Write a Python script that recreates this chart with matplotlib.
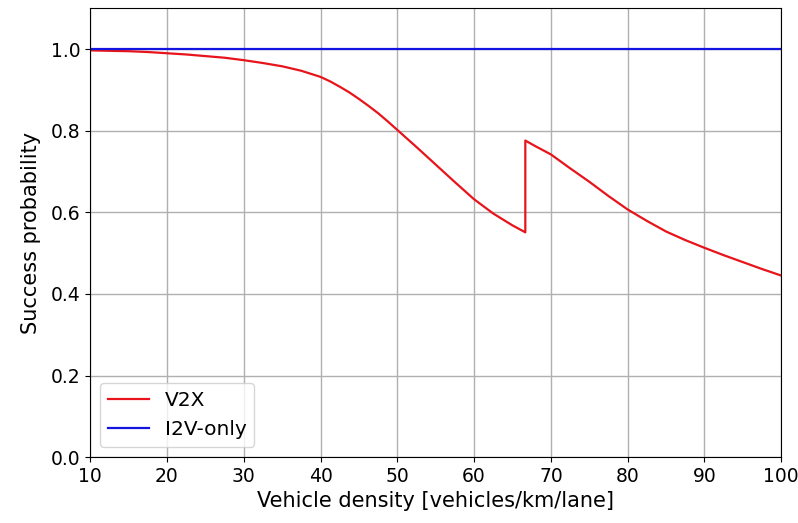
import matplotlib
matplotlib.use("Agg")
import matplotlib.pyplot as plt

# Vehicle density [vehicles/km/lane]
density = [10, 12.5, 15, 17.5, 20, 22.5, 25, 27.5, 30, 32.5, 35, 37.5, 40,
           41.25, 42.5, 43.75, 45, 46.25, 47.5, 48.75, 50, 52.5, 55, 57.5,
           60, 62.5, 65, 66.67, 66.67, 68, 70, 72.5, 75, 77.5, 80, 82.5, 85,
           87.5, 90, 92.5, 95, 97.5, 100]
# Success probability, V2X
v2x = [0.997, 0.996, 0.995, 0.993, 0.99, 0.987, 0.983, 0.979, 0.973, 0.966,
       0.958, 0.947, 0.932, 0.921, 0.908, 0.894, 0.878, 0.861, 0.843, 0.823,
       0.802, 0.76, 0.717, 0.674, 0.632, 0.597, 0.568, 0.551, 0.776, 0.762,
       0.742, 0.708, 0.675, 0.64, 0.607, 0.579, 0.553, 0.532, 0.513, 0.495,
       0.478, 0.461, 0.445]
# Success probability, I2V-only
i2v_density = [10, 100]
i2v = [1.0, 1.0]

fig = plt.figure(figsize=(7.98, 5.23), dpi=100)
ax = fig.add_axes([0.113, 0.126, 0.866, 0.858])

ax.plot(density, v2x, color="#e8141b", lw=1.6, label="V2X")
ax.plot(i2v_density, i2v, color="#1414e0", lw=1.6, label="I2V-only")

ax.set_xlim(10, 100)
ax.set_ylim(0, 1.1)
ax.set_xticks(range(10, 101, 10))
ax.set_yticks([0.0, 0.2, 0.4, 0.6, 0.8, 1.0])
ax.tick_params(labelsize=13.5)
ax.grid(True, color="#b0b0b0", lw=1.0)
ax.set_xlabel("Vehicle density [vehicles/km/lane]", fontsize=15)
ax.set_ylabel("Success probability", fontsize=15, labelpad=7)
ax.legend(loc="lower left", fontsize=14.5)

fig.savefig("out.png", dpi=100)
